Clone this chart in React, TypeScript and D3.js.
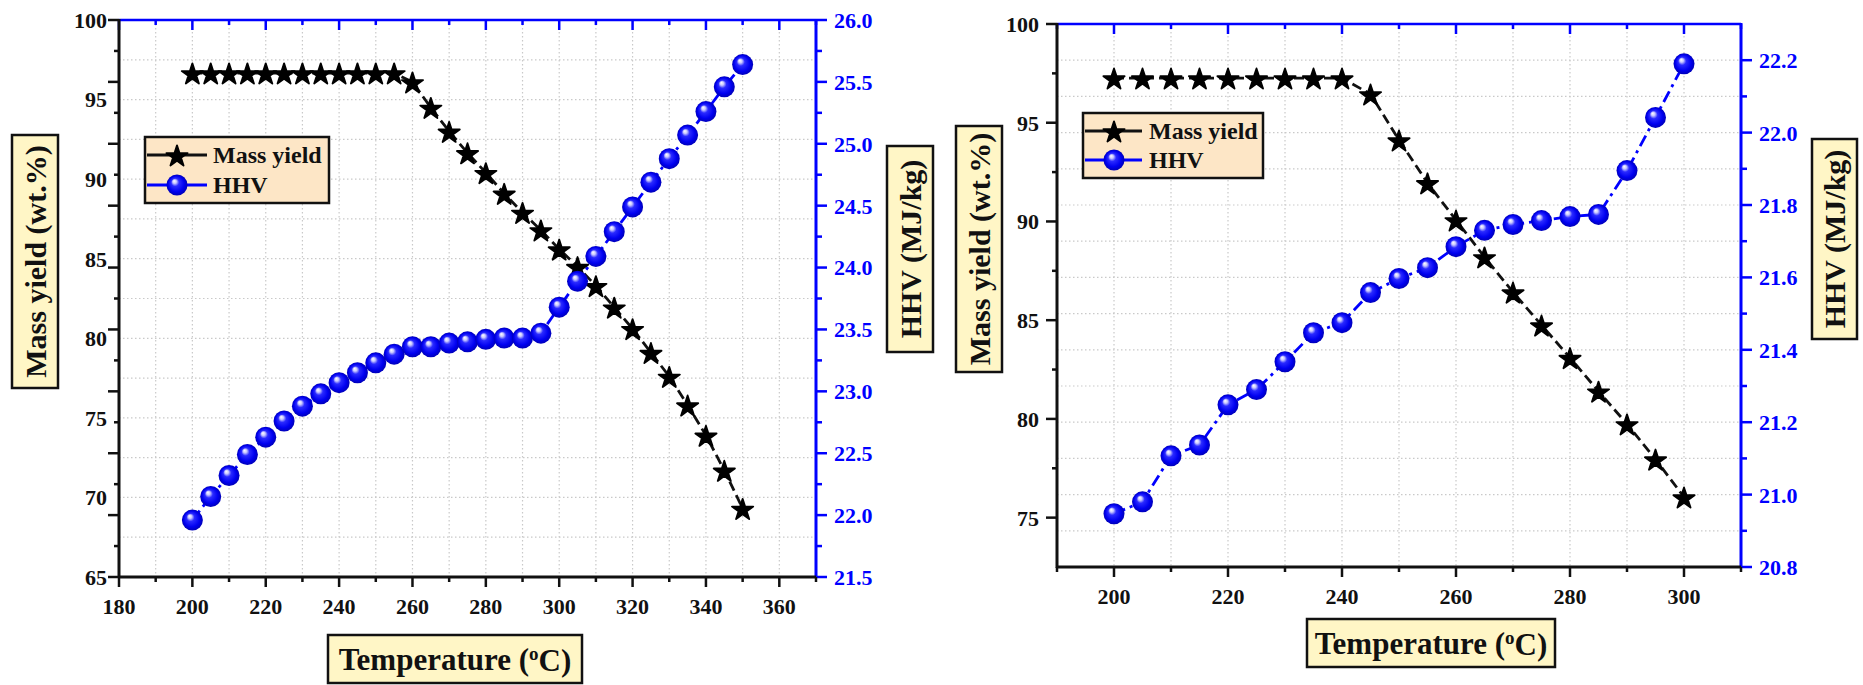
import React from "react";
import * as d3 from "d3";

// ---------- data ----------
const temps1 = [200, 205, 210, 215, 220, 225, 230, 235, 240, 245, 250, 255, 260, 265, 270, 275, 280, 285, 290, 295, 300, 305, 310, 315, 320, 325, 330, 335, 340, 345, 350];
const mass1 = [96.67, 96.67, 96.67, 96.67, 96.67, 96.67, 96.67, 96.67, 96.67, 96.67, 96.67, 96.67, 96.1, 94.5, 93.0, 91.65, 90.4, 89.1, 87.9, 86.8, 85.6, 84.5, 83.3, 81.95, 80.6, 79.1, 77.6, 75.8, 73.9, 71.7, 69.3];
const hhv1 = [21.96, 22.15, 22.32, 22.49, 22.63, 22.76, 22.88, 22.98, 23.07, 23.15, 23.23, 23.3, 23.36, 23.36, 23.39, 23.4, 23.42, 23.43, 23.43, 23.47, 23.68, 23.89, 24.09, 24.29, 24.49, 24.69, 24.88, 25.07, 25.26, 25.46, 25.64];

const temps2 = [200, 205, 210, 215, 220, 225, 230, 235, 240, 245, 250, 255, 260, 265, 270, 275, 280, 285, 290, 295, 300];
const mass2 = [97.26, 97.26, 97.26, 97.26, 97.26, 97.26, 97.26, 97.26, 97.26, 96.45, 94.12, 91.95, 90.07, 88.2, 86.42, 84.75, 83.1, 81.4, 79.74, 77.96, 76.04];
const hhv2 = [20.947, 20.98, 21.107, 21.137, 21.248, 21.29, 21.367, 21.447, 21.475, 21.558, 21.597, 21.627, 21.685, 21.73, 21.746, 21.757, 21.768, 21.774, 21.895, 22.042, 22.19];

// tick values
const xLabels1 = [180, 200, 220, 240, 260, 280, 300, 320, 340, 360];
const xMinor1 = [180, 190, 200, 210, 220, 230, 240, 250, 260, 270, 280, 290, 300, 310, 320, 330, 340, 350, 360, 370];
const xGrid1 = [190, 200, 210, 220, 230, 240, 250, 260, 270, 280, 290, 300, 310, 320, 330, 340, 350, 360];
const yLabels1 = [65, 70, 75, 80, 85, 90, 95, 100];
const yGrid1 = [67.5, 70, 72.5, 75, 77.5, 80, 82.5, 85, 87.5, 90, 92.5, 95, 97.5];
const rLabels1 = [21.5, 22.0, 22.5, 23.0, 23.5, 24.0, 24.5, 25.0, 25.5, 26.0];
const rMinor1 = [21.75, 22.25, 22.75, 23.25, 23.75, 24.25, 24.75, 25.25, 25.75];

const xLabels2 = [200, 220, 240, 260, 280, 300];
const xMinor2 = [190, 200, 210, 220, 230, 240, 250, 260, 270, 280, 290, 300, 310];
const xGrid2 = [200, 210, 220, 230, 240, 250, 260, 270, 280, 290, 300];
const yLabels2 = [75, 80, 85, 90, 95, 100];
const yMinor2 = [77.5, 82.5, 87.5, 92.5, 97.5];
const rLabels2 = [20.8, 21.0, 21.2, 21.4, 21.6, 21.8, 22.0, 22.2];
const rMinor2 = [20.9, 21.1, 21.3, 21.5, 21.7, 21.9, 22.1];
const rGrid2 = [20.9, 21.0, 21.1, 21.2, 21.3, 21.4, 21.5, 21.6, 21.7, 21.8, 21.9, 22.0, 22.1, 22.2];

const FONT = "'Liberation Serif', 'Times New Roman', serif";
const BLUE = "#0000ff";
const starPath = d3.symbol().type(d3.symbolStar).size(140)() as string;

type Cfg = {
  x0: number; x1: number; y0: number; y1: number;
  xDom: [number, number]; lDom: [number, number]; rDom: [number, number];
  temps: number[]; mass: number[]; hhv: number[];
  xLabels: number[]; xMinor: number[]; xGrid: number[];
  yLabels: number[];
  leftTickMode: "right" | "left"; yMinor?: number[];
  rLabels: number[]; rMinor: number[];
  hGridMode: "left" | "right"; yGrid?: number[]; rGrid?: number[];
  leftLabelGap: number;
  legend: { x: number; y: number; w: number; h: number; r1: number; r2: number; lx0: number; lx1: number; mx: number; tx: number };
  yTitle: { x: number; y: number; w: number; h: number };
  rTitle: { x: number; y: number; w: number; h: number };
  xTitle: { x: number; y: number; w: number; h: number };
};

function Chart({ c, id }: { c: Cfg; id: string }) {
  const x = d3.scaleLinear().domain(c.xDom).range([c.x0, c.x1]);
  const yl = d3.scaleLinear().domain(c.lDom).range([c.y1, c.y0]);
  const yr = d3.scaleLinear().domain(c.rDom).range([c.y1, c.y0]);
  const massLine = d3.line<number>().x((_, i) => x(c.temps[i])).y((d) => yl(d));
  const hhvLine = d3.line<number>().x((_, i) => x(c.temps[i])).y((d) => yr(d));
  const f1 = d3.format(".1f");
  const majorX = new Set(c.xLabels);

  const hGrid = c.hGridMode === "left" ? (c.yGrid || []).map((v) => yl(v)) : (c.rGrid || []).map((v) => yr(v));
  const leftTicks: { y: number; major: boolean }[] =
    c.leftTickMode === "right"
      ? [...c.rLabels.map((v) => ({ y: yr(v), major: true })), ...c.rMinor.map((v) => ({ y: yr(v), major: false }))]
      : [...c.yLabels.map((v) => ({ y: yl(v), major: true })), ...(c.yMinor || []).map((v) => ({ y: yl(v), major: false }))];

  const box = (b: { x: number; y: number; w: number; h: number }) => (
    <rect x={b.x} y={b.y} width={b.w} height={b.h} fill="#fff6c6" stroke="#111" strokeWidth={2.5} />
  );
  const L = c.legend;
  return (
    <g>
      {c.xGrid.map((v) => (
        <line key={"vg" + v} x1={x(v)} x2={x(v)} y1={c.y0} y2={c.y1} stroke="#c9c9c9" strokeWidth={1.2} strokeDasharray="1.5,2.5" />
      ))}
      {hGrid.map((y, i) => (
        <line key={"hg" + i} x1={c.x0} x2={c.x1} y1={y} y2={y} stroke="#c9c9c9" strokeWidth={1.2} strokeDasharray="1.5,2.5" />
      ))}

      <line x1={c.x0} x2={c.x1} y1={c.y0} y2={c.y0} stroke={BLUE} strokeWidth={2.5} />
      {c.xMinor.map((v) => (
        <line key={"tt" + v} x1={x(v)} x2={x(v)} y1={c.y0} y2={c.y0 + (majorX.has(v) ? 10 : 5)} stroke={BLUE} strokeWidth={2.5} />
      ))}
      <line x1={c.x1} x2={c.x1} y1={c.y0 - 1} y2={c.y1} stroke={BLUE} strokeWidth={3} />
      {c.rLabels.map((v) => (
        <g key={"rl" + v}>
          <line x1={c.x1} x2={c.x1 + 11} y1={yr(v)} y2={yr(v)} stroke={BLUE} strokeWidth={2.5} />
          <text x={c.x1 + 18} y={yr(v)} dy="0.36em" fontFamily={FONT} fontWeight="bold" fontSize={22} fill={BLUE}>{f1(v)}</text>
        </g>
      ))}
      {c.rMinor.map((v) => (
        <line key={"rm" + v} x1={c.x1} x2={c.x1 + 6} y1={yr(v)} y2={yr(v)} stroke={BLUE} strokeWidth={2.5} />
      ))}
      <line x1={c.x0 - 1} x2={c.x1} y1={c.y1} y2={c.y1} stroke="#111" strokeWidth={3} />
      {c.xMinor.map((v) => (
        <line key={"bt" + v} x1={x(v)} x2={x(v)} y1={c.y1} y2={c.y1 + (majorX.has(v) ? 10 : 5)} stroke="#111" strokeWidth={2.5} />
      ))}
      {c.xLabels.map((v) => (
        <text key={"bl" + v} x={x(v)} y={c.y1 + 37} textAnchor="middle" fontFamily={FONT} fontWeight="bold" fontSize={22} fill="#111">{v}</text>
      ))}
      <line x1={c.x0} x2={c.x0} y1={c.y0 - 1} y2={c.y1 + 1} stroke="#111" strokeWidth={3} />
      {leftTicks.map((t, i) => (
        <line key={"lt" + i} x1={c.x0 - (t.major ? 11 : 5)} x2={c.x0} y1={t.y} y2={t.y} stroke="#111" strokeWidth={2.5} />
      ))}
      {c.yLabels.map((v) => (
        <text key={"ll" + v} x={c.x0 - c.leftLabelGap} y={yl(v)} dy="0.36em" textAnchor="end" fontFamily={FONT} fontWeight="bold" fontSize={22} fill="#111">{v}</text>
      ))}

      <path d={massLine(c.mass) as string} fill="none" stroke="#111" strokeWidth={2.8} strokeDasharray="10,5" />
      <path d={hhvLine(c.hhv) as string} fill="none" stroke={BLUE} strokeWidth={2.8} strokeDasharray="12,5,3,5" />
      {c.mass.map((v, i) => (
        <path key={"s" + i} d={starPath} transform={`translate(${x(c.temps[i])},${yl(v) + 1.5})`} fill="#000" stroke="#000" strokeWidth={1.8} strokeLinejoin="round" />
      ))}
      {c.hhv.map((v, i) => (
        <circle key={"c" + i} cx={x(c.temps[i])} cy={yr(v)} r={10.5} fill={`url(#${id})`} />
      ))}

      <rect x={L.x} y={L.y} width={L.w} height={L.h} fill="#fde6c6" stroke="#111" strokeWidth={2.5} />
      <line x1={L.lx0} x2={L.lx1} y1={L.r1} y2={L.r1} stroke="#111" strokeWidth={3} />
      <path d={starPath} transform={`translate(${L.mx},${L.r1 + 1.5})`} fill="#000" stroke="#000" strokeWidth={1.8} strokeLinejoin="round" />
      <text x={L.tx} y={L.r1} dy="0.34em" fontFamily={FONT} fontWeight="bold" fontSize={24} fill="#111">Mass yield</text>
      <line x1={L.lx0} x2={L.lx1} y1={L.r2} y2={L.r2} stroke={BLUE} strokeWidth={3} />
      <circle cx={L.mx} cy={L.r2} r={10.5} fill={`url(#${id})`} />
      <text x={L.tx} y={L.r2} dy="0.34em" fontFamily={FONT} fontWeight="bold" fontSize={24} fill="#111">HHV</text>

      {box(c.yTitle)}
      <text transform={`translate(${c.yTitle.x + c.yTitle.w / 2},${c.yTitle.y + c.yTitle.h / 2}) rotate(-90)`} dy="0.35em" textAnchor="middle" fontFamily={FONT} fontWeight="bold" fontSize={30} fill="#111">Mass yield (wt.%)</text>
      {box(c.rTitle)}
      <text transform={`translate(${c.rTitle.x + c.rTitle.w / 2},${c.rTitle.y + c.rTitle.h / 2}) rotate(-90)`} dy="0.35em" textAnchor="middle" fontFamily={FONT} fontWeight="bold" fontSize={30} fill="#111">HHV (MJ/kg)</text>
      {box(c.xTitle)}
      <text x={c.xTitle.x + c.xTitle.w / 2} y={c.xTitle.y + c.xTitle.h / 2} dy="0.36em" textAnchor="middle" fontFamily={FONT} fontWeight="bold" fontSize={31} fill="#111">
        Temperature (<tspan fontSize={19} dy="-0.55em">o</tspan><tspan dy="0.35em">C)</tspan>
      </text>
    </g>
  );
}

const cfg1: Cfg = {
  x0: 119, x1: 816, y0: 20, y1: 577,
  xDom: [180, 370], lDom: [65, 100], rDom: [21.5, 26.0],
  temps: temps1, mass: mass1, hhv: hhv1,
  xLabels: xLabels1, xMinor: xMinor1, xGrid: xGrid1,
  yLabels: yLabels1, leftTickMode: "right",
  rLabels: rLabels1, rMinor: rMinor1,
  hGridMode: "left", yGrid: yGrid1, leftLabelGap: 12,
  legend: { x: 145, y: 137, w: 184, h: 66, r1: 155, r2: 185, lx0: 147, lx1: 207, mx: 177, tx: 213 },
  yTitle: { x: 12, y: 135, w: 46, h: 253 },
  rTitle: { x: 887, y: 146, w: 46, h: 206 },
  xTitle: { x: 328, y: 635, w: 254, h: 48 },
};

const cfg2: Cfg = {
  x0: 1057, x1: 1741, y0: 24, y1: 567,
  xDom: [190, 310], lDom: [72.5, 100], rDom: [20.8, 22.3],
  temps: temps2, mass: mass2, hhv: hhv2,
  xLabels: xLabels2, xMinor: xMinor2, xGrid: xGrid2,
  yLabels: yLabels2, leftTickMode: "left", yMinor: yMinor2,
  rLabels: rLabels2, rMinor: rMinor2,
  hGridMode: "right", rGrid: rGrid2, leftLabelGap: 18,
  legend: { x: 1083, y: 113, w: 180, h: 65, r1: 131, r2: 160, lx0: 1085, lx1: 1142, mx: 1114, tx: 1149 },
  yTitle: { x: 956, y: 126, w: 46, h: 246 },
  rTitle: { x: 1812, y: 139, w: 45, h: 200 },
  xTitle: { x: 1307, y: 619, w: 248, h: 48 },
};

export default function App() {
  return (
    <svg width={1863} height={685} style={{ position: "absolute", left: 0, top: 0, display: "block", background: "#fff" }}>
      <defs>
        {["g1", "g2"].map((id) => (
          <radialGradient key={id} id={id} cx="0.5" cy="0.5" r="0.5" fx="0.36" fy="0.3">
            <stop offset="0" stopColor="#ffffff" />
            <stop offset="0.18" stopColor="#c8c8ff" />
            <stop offset="0.38" stopColor="#2a2aff" />
            <stop offset="0.75" stopColor="#0000f0" />
            <stop offset="1" stopColor="#0000b8" />
          </radialGradient>
        ))}
      </defs>
      <Chart c={cfg1} id="g1" />
      <Chart c={cfg2} id="g2" />
    </svg>
  );
}
